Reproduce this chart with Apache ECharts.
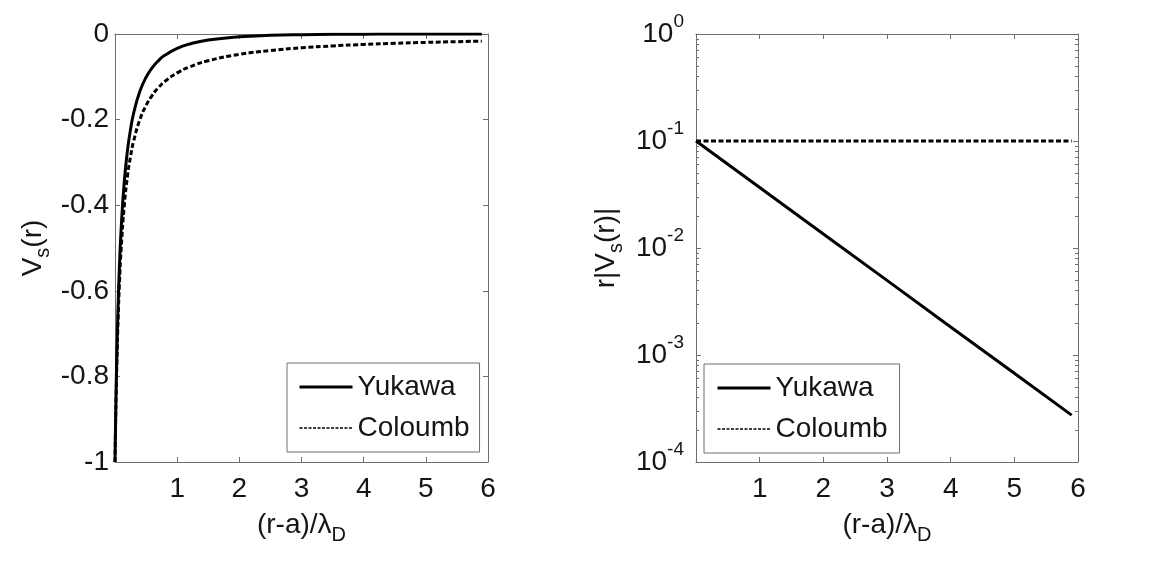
<!DOCTYPE html>
<html>
<head>
<meta charset="utf-8">
<script src="https://cdn.jsdelivr.net/npm/echarts@6/dist/echarts.min.js"></script>
<style>
  html, body { margin: 0; padding: 0; background: #fff; }
  #chart { width: 1156px; height: 561px; }
</style>
</head>
<body>
<div id="chart"></div>
<script>
// left panel: V_s(r) against (r-a)/lambda_D
const xsLeft = [0, 0.01, 0.02, 0.03, 0.05, 0.07, 0.1, 0.15, 0.2, 0.25, 0.3, 0.4, 0.5, 0.6, 0.7, 0.8,
                1.0, 1.2, 1.5, 2, 2.5, 3, 3.5, 4, 4.5, 5, 5.5, 5.9];
const yukawaLeft = [-1, -0.900, -0.817, -0.746, -0.634, -0.548, -0.452, -0.344, -0.273, -0.223, -0.185,
                    -0.134, -0.101, -0.0784, -0.0621, -0.0499, -0.0334, -0.0232, -0.0139, -0.0064,
                    -0.0032, -0.0016, -0.0008, -0.0004, -0.0002, -0.0001, -0.00007, -0.00005];
const coulombLeft = [-1, -0.909, -0.833, -0.769, -0.667, -0.588, -0.5, -0.4, -0.333, -0.286, -0.25,
                     -0.2, -0.167, -0.143, -0.125, -0.111, -0.0909, -0.0769, -0.0625, -0.0476,
                     -0.0385, -0.0323, -0.0278, -0.0244, -0.0217, -0.0196, -0.0179, -0.0167];

// right panel: r|V_s(r)| on a log axis
const xsRight = [0, 1, 2, 3, 4, 5, 5.9];
const yukawaRight = [0.1, 0.0368, 0.0135, 0.00498, 0.00183, 0.000674, 0.000274];
const coulombRight = [0.1, 0.1, 0.1, 0.1, 0.1, 0.1, 0.1];

const seriesNames = ['Yukawa', 'Coloumb'];

const FONT = 'Liberation Sans, Arial, Helvetica, sans-serif';
const FRAME = '#6e6e6e';
const INK = '#151515';

const chart = echarts.init(document.getElementById('chart'));

const pairs = (xs, ys) => xs.map((x, i) => [x, ys[i]]);

const nameRich = {
    n: { fontSize: 28, fontFamily: FONT, color: INK, lineHeight: 40 },
    s: { fontSize: 20, fontFamily: FONT, color: INK, lineHeight: 16, verticalAlign: 'bottom' }
};

function frameAxis(extra) {
    return Object.assign({
        axisLine: { show: true, onZero: false, lineStyle: { color: FRAME, width: 1 } },
        axisTick: { show: true, inside: true, length: 5, lineStyle: { color: FRAME } },
        splitLine: { show: false },
        axisLabel: { show: false }
    }, extra);
}

const tickLabel = { fontSize: 28, fontFamily: FONT, color: INK };

function legendItems() {
    return [
        { name: seriesNames[0], itemStyle: { opacity: 0 }, lineStyle: { width: 3, type: 'solid' } },
        { name: seriesNames[1], itemStyle: { opacity: 0 }, lineStyle: { width: 1.6, type: [3, 1.5] } }
    ];
}

const option = {
    animation: false,
    backgroundColor: '#fff',
    grid: [
        { left: 115, top: 34, width: 373, height: 428 },
        { left: 696, top: 34, width: 382, height: 428 }
    ],
    xAxis: [
        frameAxis({
            gridIndex: 0, type: 'value', min: 0, max: 6, interval: 1, position: 'bottom',
            axisLabel: Object.assign({ show: true, margin: 13, formatter: v => v === 0 ? '' : String(v) }, tickLabel),
            name: '{n|(r-a)/λ}{s|D}', nameLocation: 'middle', nameGap: 43,
            nameTextStyle: { rich: nameRich }
        }),
        frameAxis({ gridIndex: 0, type: 'value', min: 0, max: 6, interval: 1, position: 'top' }),
        frameAxis({
            gridIndex: 1, type: 'value', min: 0, max: 6, interval: 1, position: 'bottom',
            axisLabel: Object.assign({ show: true, margin: 13, formatter: v => v === 0 ? '' : String(v) }, tickLabel),
            name: '{n|(r-a)/λ}{s|D}', nameLocation: 'middle', nameGap: 43,
            nameTextStyle: { rich: nameRich }
        }),
        frameAxis({ gridIndex: 1, type: 'value', min: 0, max: 6, interval: 1, position: 'top' })
    ],
    yAxis: [
        frameAxis({
            gridIndex: 0, type: 'value', min: -1, max: 0, interval: 0.2, position: 'left',
            axisLabel: Object.assign({ show: true, margin: 6 }, tickLabel),
            name: '{n|V}{s|s}{n|(r)}', nameLocation: 'middle', nameGap: 62, nameRotate: 90,
            nameTextStyle: { rich: nameRich }
        }),
        frameAxis({ gridIndex: 0, type: 'value', min: -1, max: 0, interval: 0.2, position: 'right' }),
        frameAxis({
            gridIndex: 1, type: 'log', logBase: 10, min: 0.0001, max: 1, position: 'left',
            minorTick: { show: true, splitNumber: 9, length: 3, lineStyle: { color: FRAME } },
            axisLabel: {
                show: true, margin: 12,
                formatter: v => '{b|10}{e|' + Math.round(Math.log10(v)) + '}',
                rich: {
                    b: { fontSize: 28, fontFamily: FONT, color: INK, lineHeight: 44 },
                    e: { fontSize: 19, fontFamily: FONT, color: INK, lineHeight: 19, verticalAlign: 'top' }
                }
            },
            name: '{n|r|V}{s|s}{n|(r)|}', nameLocation: 'middle', nameGap: 70, nameRotate: 90,
            nameTextStyle: { rich: nameRich }
        }),
        frameAxis({
            gridIndex: 1, type: 'log', logBase: 10, min: 0.0001, max: 1, position: 'right',
            minorTick: { show: true, splitNumber: 9, length: 3, lineStyle: { color: FRAME } }
        })
    ],
    legend: [
        {
            left: 287, top: 363, orient: 'vertical',
            padding: [9, 10, 9, 11], itemGap: 11, itemWidth: 53, itemHeight: 14,
            backgroundColor: '#fff', borderColor: FRAME, borderWidth: 1,
            textStyle: { fontSize: 28, fontFamily: FONT, color: INK, lineHeight: 30 },
            data: legendItems()
        },
        {
            left: 704, top: 364, orient: 'vertical',
            padding: [9, 12, 9, 12], itemGap: 11, itemWidth: 53, itemHeight: 14,
            backgroundColor: '#fff', borderColor: FRAME, borderWidth: 1,
            textStyle: { fontSize: 28, fontFamily: FONT, color: INK, lineHeight: 30 },
            data: legendItems()
        }
    ],
    series: [
        {
            name: seriesNames[0], type: 'line', xAxisIndex: 0, yAxisIndex: 0,
            data: pairs(xsLeft, yukawaLeft), symbol: 'none', smooth: true,
            lineStyle: { color: '#000', width: 3 }, itemStyle: { color: '#000' }
        },
        {
            name: seriesNames[1], type: 'line', xAxisIndex: 0, yAxisIndex: 0,
            data: pairs(xsLeft, coulombLeft), symbol: 'none', smooth: true,
            lineStyle: { color: '#000', width: 3, type: [5, 2.5] }, itemStyle: { color: '#000' }
        },
        {
            name: seriesNames[0], type: 'line', xAxisIndex: 2, yAxisIndex: 2,
            data: pairs(xsRight, yukawaRight), symbol: 'none',
            lineStyle: { color: '#000', width: 3 }, itemStyle: { color: '#000' }
        },
        {
            name: seriesNames[1], type: 'line', xAxisIndex: 2, yAxisIndex: 2,
            data: pairs(xsRight, coulombRight), symbol: 'none',
            lineStyle: { color: '#000', width: 3, type: [5, 2.5] }, itemStyle: { color: '#000' }
        }
    ]
};

chart.setOption(option);
</script>
</body>
</html>
